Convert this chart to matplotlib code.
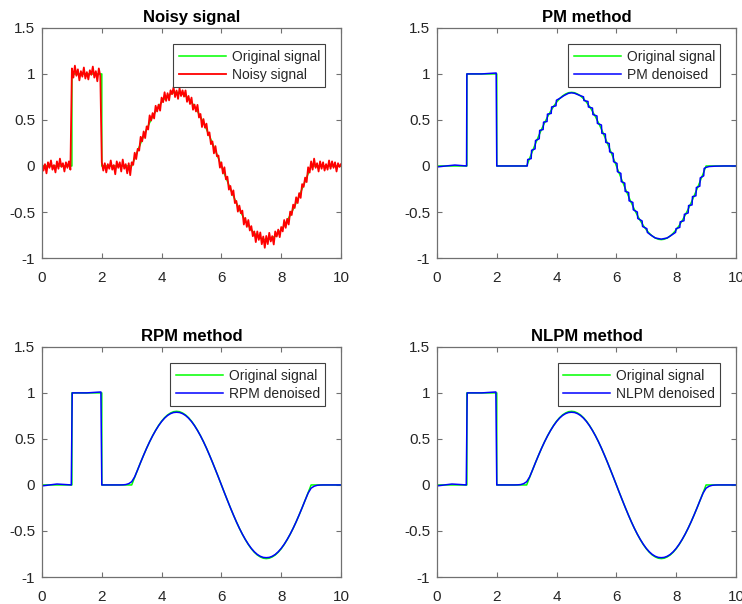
import numpy as np
import matplotlib
matplotlib.use('Agg')
import matplotlib.pyplot as plt

plt.rcParams['font.family'] = ['Liberation Sans', 'DejaVu Sans']

# Clean test signal: box on [1, 2], one sine period on [3, 9]
orig_x = [0, 1, 1, 2, 2] + list(np.linspace(3, 9, 61)) + [10]
orig_y = [0, 0, 1, 1, 0,
          0.000, 0.084, 0.166, 0.247, 0.325, 0.400, 0.470, 0.535, 0.594, 0.647,
          0.693, 0.731, 0.761, 0.782, 0.796, 0.800, 0.796, 0.782, 0.761, 0.731,
          0.693, 0.647, 0.594, 0.535, 0.470, 0.400, 0.325, 0.247, 0.166, 0.084,
          0.000, -0.084, -0.166, -0.247, -0.325, -0.400, -0.470, -0.535, -0.594, -0.647,
          -0.693, -0.731, -0.761, -0.782, -0.796, -0.800, -0.796, -0.782, -0.761, -0.731,
          -0.693, -0.647, -0.594, -0.535, -0.470, -0.400, -0.325, -0.247, -0.166, -0.084,
          0.000,
          0]

# Noisy observation, sampled every 0.05
noisy_x = np.linspace(0, 10, 201)
noisy_y = [
    0.03, -0.05, 0.02, -0.08, 0.04, -0.02, 0.06, -0.04, 0.01, -0.07,
    0.05, -0.03, 0.08, -0.01, 0.03, -0.06, 0.04, -0.02, 0.05, -0.04,
    1.06, 0.96, 1.09, 0.98, 1.05, 0.93, 1.03, 0.97, 1.07, 0.95,
    1.02, 0.94, 1.04, 0.99, 1.08, 0.96, 1.03, 0.92, 1.06, 0.98,
    0.04, -0.05, 0.03, -0.07, 0.02, -0.03, 0.06, -0.04, 0.01, -0.09,
    0.05, -0.02, 0.04, -0.06, 0.07, -0.03, 0.02, -0.08, 0.03, -0.10,
    0.04, 0.012, 0.144, 0.075, 0.186, 0.167, 0.317, 0.267, 0.375, 0.303,
    0.43, 0.396, 0.55, 0.493, 0.575, 0.516, 0.654, 0.592, 0.667, 0.601,
    0.743, 0.693, 0.801, 0.707, 0.791, 0.713, 0.822, 0.78, 0.856, 0.749,
    0.82, 0.729, 0.846, 0.76, 0.822, 0.753, 0.821, 0.697, 0.761, 0.673,
    0.743, 0.611, 0.667, 0.592, 0.664, 0.526, 0.565, 0.423, 0.51, 0.416,
    0.46, 0.333, 0.365, 0.237, 0.267, 0.137, 0.216, 0.105, 0.114, -0.018,
    0.04, -0.082, -0.014, -0.145, -0.116, -0.257, -0.217, -0.317, -0.265, -0.403,
    -0.38, -0.496, -0.43, -0.513, -0.485, -0.636, -0.564, -0.662, -0.587, -0.701,
    -0.653, -0.763, -0.711, -0.827, -0.711, -0.803, -0.722, -0.85, -0.766, -0.889,
    -0.76, -0.849, -0.726, -0.82, -0.762, -0.853, -0.711, -0.767, -0.691, -0.773,
    -0.663, -0.711, -0.587, -0.672, -0.574, -0.636, -0.495, -0.533, -0.42, -0.456,
    -0.34, -0.403, -0.295, -0.347, -0.197, -0.227, -0.126, -0.175, -0.014, -0.072,
    0.05, -0.04, 0.08, -0.02, 0.03, -0.06, 0.05, -0.03, 0.04, -0.05,
    0.02, -0.04, 0.06, -0.03, 0.05, -0.02, 0.04, -0.06, 0.03, -0.01,
    0.02]

# Perona-Malik result: staircasing along the sine slopes
pm_x = [0, 0.3, 0.6, 0.99, 1.0, 1.5, 1.98, 2.0, 2.5, 2.98,
        3.02, 3.035, 3.15, 3.165, 3.28, 3.295, 3.42, 3.435, 3.55, 3.565, 3.68, 3.695, 3.82, 3.835, 3.98, 3.995,
        4.12, 4.25, 4.4, 4.5, 4.6, 4.75,
        4.90, 4.915, 5.05, 5.065, 5.20, 5.215, 5.35, 5.365, 5.50, 5.515, 5.63, 5.645, 5.76, 5.775, 5.89, 5.905,
        6.02, 6.035, 6.15, 6.165, 6.28, 6.295, 6.41, 6.425, 6.55, 6.565, 6.70, 6.715, 6.86, 6.875, 7.02, 7.035,
        7.15, 7.3, 7.5, 7.7, 7.85,
        7.98, 7.995, 8.12, 8.135, 8.26, 8.275, 8.40, 8.415, 8.53, 8.545, 8.66, 8.675, 8.79, 8.805, 8.92, 8.935,
        9.0, 9.1, 9.3, 9.6, 10]
pm_y = [-0.01, 0.0, 0.01, 0.0, 1.0, 1.0, 1.01, 0.0, 0.0, 0.0,
        0.0, 0.07, 0.08, 0.17, 0.186, 0.276, 0.296, 0.386, 0.396, 0.476, 0.483, 0.563, 0.571, 0.641, 0.654, 0.714,
        0.737, 0.765, 0.79, 0.795, 0.79, 0.77,
        0.751, 0.711, 0.701, 0.641, 0.629, 0.559, 0.543, 0.463, 0.445, 0.355, 0.347, 0.257, 0.244, 0.154, 0.137, 0.047,
        0.028, -0.062, -0.08, -0.17, -0.186, -0.276, -0.288, -0.378, -0.396, -0.476, -0.5, -0.57, -0.597, -0.657, -0.681, -0.721,
        -0.75, -0.782, -0.795, -0.782, -0.75,
        -0.721, -0.681, -0.667, -0.607, -0.595, -0.525, -0.51, -0.43, -0.423, -0.333, -0.324, -0.234, -0.219, -0.129, -0.107, -0.027,
        -0.015, -0.006, -0.002, 0.0, 0.0]

# Regularised / nonlocal PM results share one grid: knots on the box, then 0.1 steps
smooth_x = np.concatenate([[0, 0.25, 0.5, 0.75, 0.98, 1.01, 1.5, 1.97, 2.0, 2.3],
                           np.linspace(2.6, 9.5, 70), [10]])
rpm_y = [-0.01, 0.0, 0.01, 0.005, 0.0, 1.0, 1.0, 1.01, 0.0, 0.0,
         0.0, 0.001, 0.004, 0.014,
         0.035, 0.088, 0.166, 0.247, 0.325, 0.400, 0.470, 0.534, 0.592, 0.644,
         0.689, 0.726, 0.755, 0.775, 0.787, 0.790, 0.787, 0.775, 0.755, 0.726,
         0.689, 0.644, 0.592, 0.534, 0.470, 0.400, 0.325, 0.247, 0.166, 0.084,
         0.0, -0.084, -0.166, -0.247, -0.325, -0.400, -0.470, -0.534, -0.592, -0.644,
         -0.689, -0.726, -0.755, -0.775, -0.787, -0.790, -0.787, -0.775, -0.755, -0.726,
         -0.689, -0.644, -0.592, -0.534, -0.470, -0.400, -0.325, -0.247, -0.166, -0.088,
         -0.035, -0.014, -0.004, -0.001, 0.0, 0.0,
         0.0]
nlpm_y = [-0.01, 0.0, 0.01, 0.005, 0.0, 1.0, 1.0, 1.01, 0.0, 0.0,
          0.0, 0.001, 0.004, 0.014,
          0.035, 0.088, 0.166, 0.247, 0.325, 0.400, 0.470, 0.534, 0.592, 0.644,
          0.689, 0.726, 0.755, 0.775, 0.787, 0.790, 0.787, 0.775, 0.755, 0.726,
          0.689, 0.644, 0.592, 0.534, 0.470, 0.400, 0.325, 0.247, 0.166, 0.084,
          0.0, -0.084, -0.166, -0.247, -0.325, -0.400, -0.470, -0.534, -0.592, -0.644,
          -0.689, -0.726, -0.755, -0.775, -0.787, -0.790, -0.787, -0.775, -0.755, -0.726,
          -0.689, -0.644, -0.592, -0.534, -0.470, -0.400, -0.325, -0.247, -0.166, -0.088,
          -0.035, -0.014, -0.004, -0.001, 0.0, 0.0,
          0.0]

x_ticks = [0, 2, 4, 6, 8, 10]
y_ticks = [-1, -0.5, 0, 0.5, 1, 1.5]
y_tick_labels = ['-1', '-0.5', '0', '0.5', '1', '1.5']

TEXT_COLOR = '#262626'
BOX_COLOR = '#707070'


def style_panel(ax, title, legend_labels):
    """MATLAB-like box axes: inward ticks on all four sides, framed legend top right."""
    ax.set_xlim(0, 10)
    ax.set_ylim(-1, 1.5)
    ax.set_xticks(x_ticks)
    ax.set_xticklabels([str(t) for t in x_ticks])
    ax.set_yticks(y_ticks)
    ax.set_yticklabels(y_tick_labels)
    ax.tick_params(direction='in', top=True, right=True, length=3.5, width=0.8,
                   color=BOX_COLOR, labelcolor=TEXT_COLOR, labelsize=11)
    ax.tick_params(axis='x', pad=9)
    ax.tick_params(axis='y', pad=5)
    for spine in ax.spines.values():
        spine.set_color(BOX_COLOR)
        spine.set_linewidth(0.9)
    ax.set_title(title, fontsize=12, fontweight='bold', pad=4)
    leg = ax.legend(legend_labels, loc='upper right', bbox_to_anchor=(0.948, 0.93),
                    borderaxespad=0, fontsize=10, handlelength=3.4, handletextpad=0.4,
                    labelspacing=0.3, borderpad=0.4, fancybox=False, framealpha=1)
    leg.get_frame().set_edgecolor('#404040')
    leg.get_frame().set_linewidth(0.8)
    for text in leg.get_texts():
        text.set_color(TEXT_COLOR)


fig = plt.figure(figsize=(7.42, 6.04), dpi=100)
ax_w, ax_h = 0.403, 0.381
ax1 = fig.add_axes([0.0566, 0.5728, ax_w, ax_h])
ax2 = fig.add_axes([0.5889, 0.5728, ax_w, ax_h])
ax3 = fig.add_axes([0.0566, 0.0447, ax_w, ax_h])
ax4 = fig.add_axes([0.5889, 0.0447, ax_w, ax_h])

lw = 1.1

ax1.plot(orig_x, orig_y, color='#00ff00', lw=lw)
ax1.plot(noisy_x, noisy_y, color='#ff0000', lw=1.3)
style_panel(ax1, 'Noisy signal', ['Original signal', 'Noisy signal'])

ax2.plot(orig_x, orig_y, color='#00ff00', lw=lw)
ax2.plot(pm_x, pm_y, color='#0000ff', lw=lw)
style_panel(ax2, 'PM method', ['Original signal', 'PM denoised'])

ax3.plot(orig_x, orig_y, color='#00ff00', lw=lw)
ax3.plot(smooth_x, rpm_y, color='#0000ff', lw=lw)
style_panel(ax3, 'RPM method', ['Original signal', 'RPM denoised'])

ax4.plot(orig_x, orig_y, color='#00ff00', lw=lw)
ax4.plot(smooth_x, nlpm_y, color='#0000ff', lw=lw)
style_panel(ax4, 'NLPM method', ['Original signal', 'NLPM denoised'])

fig.savefig('out.png', dpi=100)
